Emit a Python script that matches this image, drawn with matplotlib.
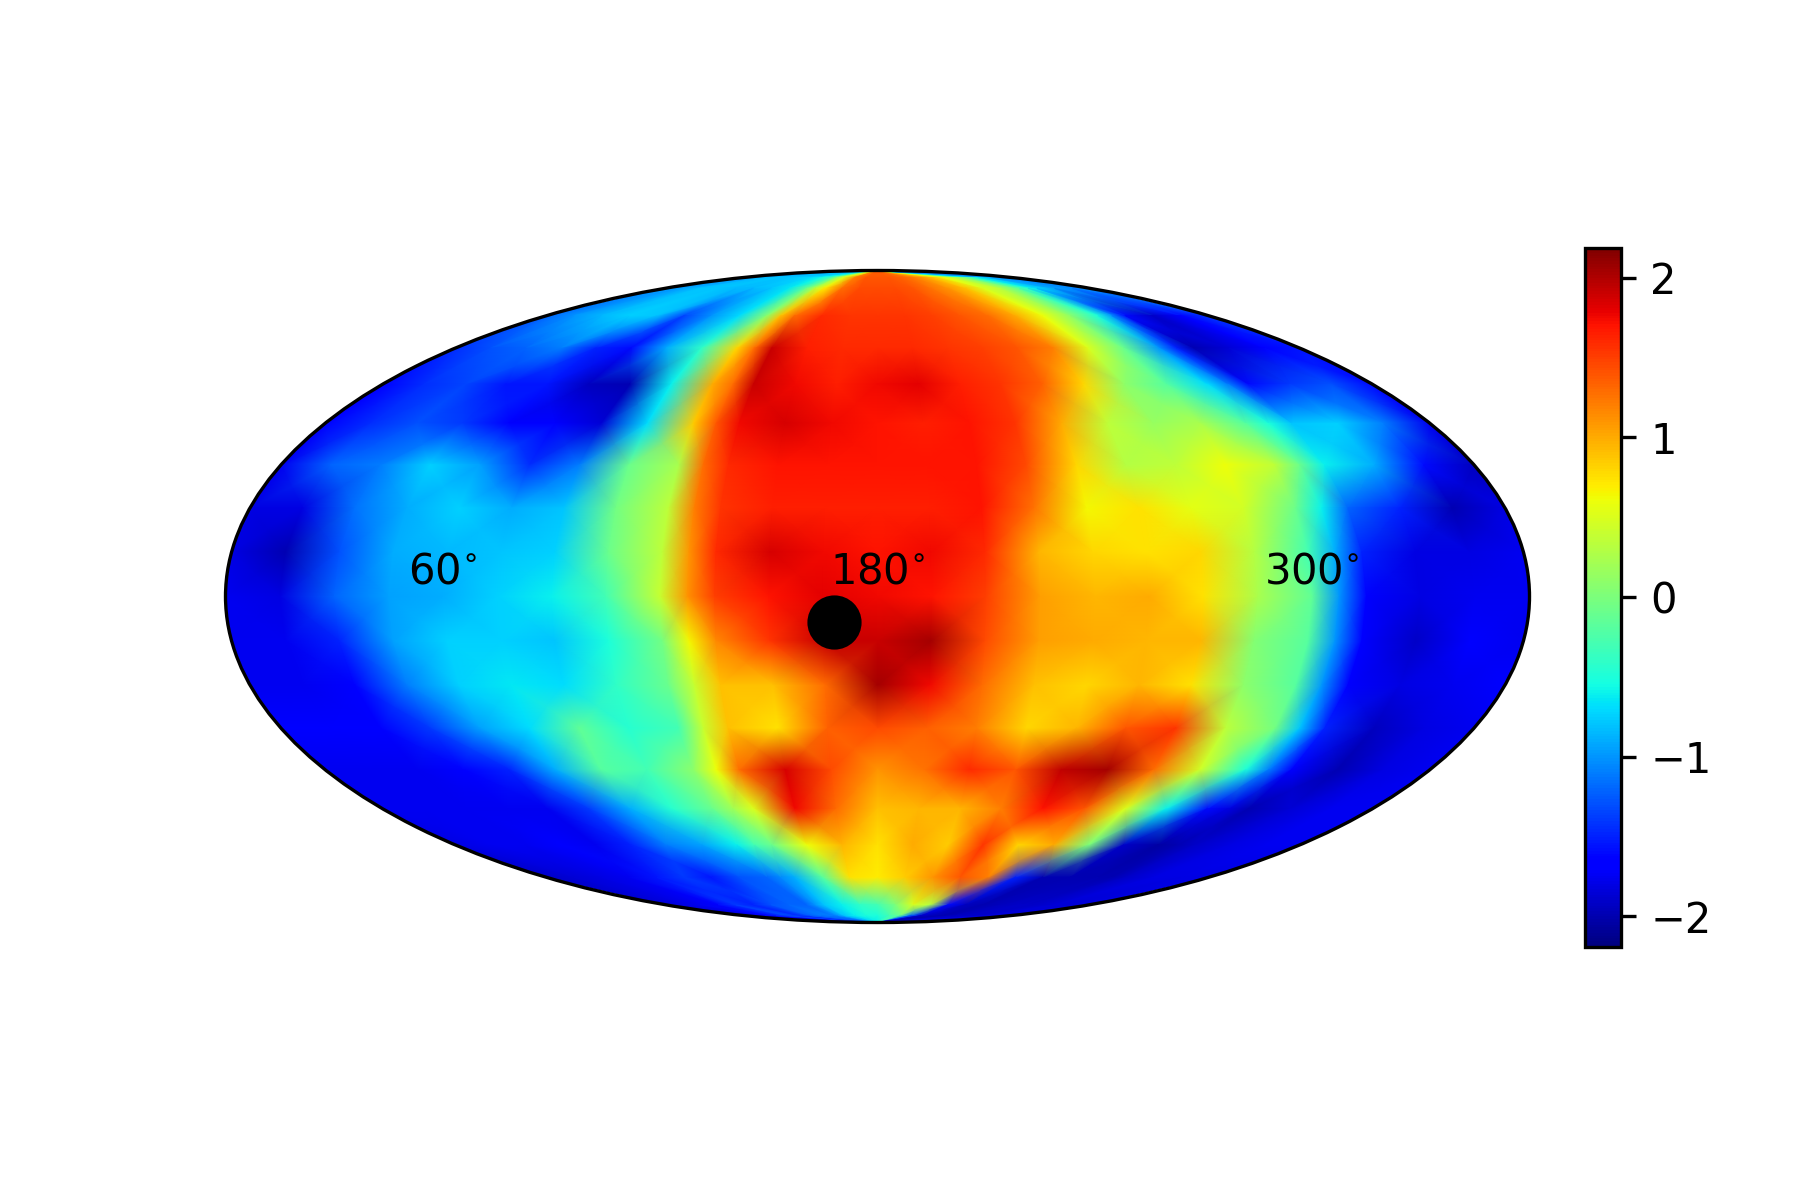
import numpy as np
import matplotlib
matplotlib.use("Agg")
import matplotlib.pyplot as plt
from matplotlib.ticker import FixedLocator, FixedFormatter

# longitudes 0..360 (centro del mapa = 180); 127.5 y 307.5 van por los bordes marcados
lon_deg = [0, 15, 30, 45, 60, 75, 90, 105, 120, 127.5, 135, 150, 165, 180, 195, 210, 225, 240, 255, 270, 285, 300,
           307.5, 315, 330, 345, 360]
lat_deg = [90, 85, 80, 70, 60, 50, 40, 30, 20, 10, 0, -10, -20, -30, -40, -50, -60, -70, -80, -85, -90]

vals = [
    [-1.0, -1.0, -0.9, -0.85, -0.85, -0.85, -0.8, -0.6, -0.1, 0.3, 0.6, 1.2, 1.35, 1.35, 1.35, 1.3, 1.2, 1.0, 0.9, 0.5, 0.3, -0.2, -0.4, -0.6, -0.9, -1.0, -1.0],
    [-1.0, -0.95, -0.85, -0.8, -0.8, -0.75, -0.7, -0.55, -0.2, 0.2, 0.5, 1.2, 1.4, 1.4, 1.4, 1.35, 1.25, 1.1, 0.9, 0.6, 0.3, -0.1, -0.35, -0.6, -0.9, -1.0, -1.05],
    [-1.0, -0.95, -0.8, -0.8, -0.85, -0.85, -0.8, -0.65, -0.1, 0.35, 0.7, 1.3, 1.45, 1.45, 1.45, 1.4, 1.25, 1.1, 0.9, 0.5, 0.3, -0.2, -0.45, -0.7, -0.95, -1.05, -1.05],
    [-1.2, -1.0, -0.85, -0.75, -0.8, -1.35, -1.0, -0.7, 0.1, 0.9, 1.3, 1.6, 1.55, 1.55, 1.55, 1.5, 1.4, 1.3, 1.0, 0.6, 0.1, -0.5, -1.0, -1.6, -1.9, -1.7, -1.4],
    [-1.45, -1.3, -1.2, -1.1, -1.5, -1.6, -0.9, -0.4, 0.8, 1.3, 1.9, 1.65, 1.6, 1.6, 1.6, 1.55, 1.5, 1.4, 1.2, 0.5, -0.1, -1.0, -1.5, -2.0, -1.85, -1.7, -1.55],
    [-1.65, -1.45, -1.35, -1.55, -1.55, -1.95, -2.0, -0.6, 1.0, 1.3, 1.9, 1.75, 1.65, 1.75, 1.8, 1.65, 1.55, 1.35, 0.8, 0.1, -0.2, -0.7, -1.1, -1.6, -1.4, -1.3, -1.6],
    [-1.7, -1.45, -1.3, -1.4, -1.7, -1.7, -1.85, -0.7, 0.85, 1.4, 1.75, 1.85, 1.75, 1.7, 1.65, 1.7, 1.55, 1.0, 0.35, 0.15, 0.25, -0.2, -0.5, -0.8, -0.75, -1.1, -1.75],
    [-1.75, -1.2, -1.1, -0.75, -0.95, -1.45, -1.1, -0.1, 0.25, 1.3, 1.6, 1.7, 1.7, 1.7, 1.7, 1.7, 1.45, 0.8, 0.3, 0.35, 0.6, 0.35, -0.1, -0.6, -0.9, -1.6, -1.95],
    [-1.8, -1.8, -1.15, -0.9, -0.75, -0.9, -0.8, -0.05, 0.35, 1.2, 1.55, 1.65, 1.65, 1.65, 1.65, 1.7, 1.25, 0.65, 0.75, 0.55, 0.45, -0.1, -0.6, -1.2, -1.5, -2.0, -1.8],
    [-1.8, -2.0, -1.3, -0.9, -0.85, -0.8, -0.75, -0.1, 0.35, 1.1, 1.6, 1.85, 1.75, 1.7, 1.75, 1.6, 0.95, 0.8, 0.75, 0.8, 0.3, -0.3, -0.9, -1.5, -1.8, -1.8, -1.75],
    [-1.75, -1.8, -1.2, -0.95, -0.9, -0.75, -0.6, -0.3, 0.4, 1.1, 1.5, 1.7, 1.8, 1.75, 1.7, 1.5, 1.05, 0.95, 1.0, 0.75, 0.25, -0.15, -1.0, -1.7, -1.8, -1.75, -1.75],
    [-1.75, -1.75, -1.5, -0.95, -0.75, -0.75, -0.8, -0.5, -0.05, 0.65, 1.15, 1.55, 1.9, 1.9, 2.05, 1.45, 1.05, 1.0, 0.95, 0.95, 0.05, -0.2, -1.0, -1.7, -1.9, -1.7, -1.75],
    [-1.75, -1.75, -1.7, -1.1, -0.75, -0.65, -0.7, -0.4, -0.1, 0.4, 0.9, 0.9, 1.3, 2.05, 1.75, 1.3, 0.9, 0.8, 0.95, 0.75, 0.1, -0.2, -1.0, -1.7, -1.8, -1.75, -1.7],
    [-1.7, -1.7, -1.7, -1.4, -0.95, -0.7, -0.15, -0.45, -0.3, 0.4, 0.9, 0.75, 1.35, 1.45, 1.35, 1.2, 0.8, 0.95, 1.4, 1.55, 0.35, -0.05, -0.8, -1.5, -1.95, -1.8, -1.75],
    [-1.75, -1.75, -1.75, -1.7, -1.5, -0.9, -0.2, -0.3, 0.1, 0.6, 1.3, 1.85, 1.45, 1.1, 1.25, 1.6, 1.4, 1.95, 2.05, 1.3, 0.45, -0.5, -1.1, -1.7, -2.0, -1.8, -1.75],
    [-1.75, -1.75, -1.75, -1.75, -1.75, -1.4, -0.9, -0.45, -0.1, 0.2, 0.5, 1.75, 1.3, 0.9, 0.95, 0.95, 1.2, 1.7, 1.4, 0.5, -0.6, -1.6, -1.8, -2.0, -1.85, -1.75, -1.75],
    [-1.8, -1.75, -1.75, -1.7, -1.75, -1.5, -1.1, -0.95, -0.6, -0.3, -0.1, 0.6, 0.95, 0.75, 1.0, 0.85, 1.55, 0.8, 1.0, 0.0, -1.9, -2.05, -2.0, -1.9, -1.8, -1.75, -1.75],
    [-1.9, -1.85, -1.8, -1.75, -1.55, -1.4, -1.55, -1.3, -1.2, -1.05, -0.9, -0.2, 0.75, 0.7, 0.85, 1.1, 1.4, 1.2, -1.5, -2.0, -2.0, -2.0, -2.0, -1.9, -1.8, -1.8, -1.8],
    [-1.85, -1.8, -1.75, -1.65, -1.4, -1.5, -1.3, -1.2, -1.2, -1.0, -0.8, -0.6, -0.4, -0.3, 0.0, 0.5, 0.3, -1.6, -1.95, -2.0, -1.95, -1.9, -1.9, -1.9, -1.85, -1.85, -1.8],
    [-1.85, -1.8, -1.7, -1.5, -1.3, -1.45, -1.2, -1.1, -1.1, -1.0, -0.8, -0.6, -0.5, -0.5, -0.3, -0.1, -1.2, -1.9, -1.95, -2.0, -1.95, -1.9, -1.9, -1.9, -1.85, -1.85, -1.8],
    [-1.85, -1.8, -1.75, -1.5, -1.4, -1.5, -1.3, -1.25, -1.2, -1.05, -0.9, -0.75, -0.65, -0.6, -0.5, -0.4, -1.3, -1.9, -2.0, -2.0, -1.95, -1.9, -1.9, -1.9, -1.85, -1.85, -1.8],
]

tick_lons = [60, 180, 300]
tick_labels = ["60$^{\\circ}$", "180$^{\\circ}$", "300$^{\\circ}$"]
cbar_ticks = [-2, -1, 0, 1, 2]
marker_lon = 168.0
marker_lat = -5.7
vlim = 2.19

fig = plt.figure(figsize=(6, 4))
ax = fig.add_axes([225 / 1800, 1 - 922.5 / 1200, 1305 / 1800, 652 / 1200], projection="mollweide")

lon = np.radians(np.array(lon_deg) - 180.0)
lat = np.radians(lat_deg)
mesh = ax.pcolormesh(lon, lat, np.array(vals), cmap="jet", vmin=-vlim, vmax=vlim, shading="gouraud")
ax.plot(np.radians(marker_lon - 180.0), np.radians(marker_lat), "o", color="k", ms=12)

ax.grid(False)
ax.xaxis.set_major_locator(FixedLocator(np.radians(np.array(tick_lons) - 180.0)))
ax.xaxis.set_major_formatter(FixedFormatter(tick_labels))
ax.set_yticklabels([])

cax = fig.add_axes([1585 / 1800, 1 - 946.5 / 1200, 36 / 1800, 699 / 1200])
cbar = fig.colorbar(mesh, cax=cax)
cbar.set_ticks(cbar_ticks)

fig.savefig("out.png", dpi=300)
